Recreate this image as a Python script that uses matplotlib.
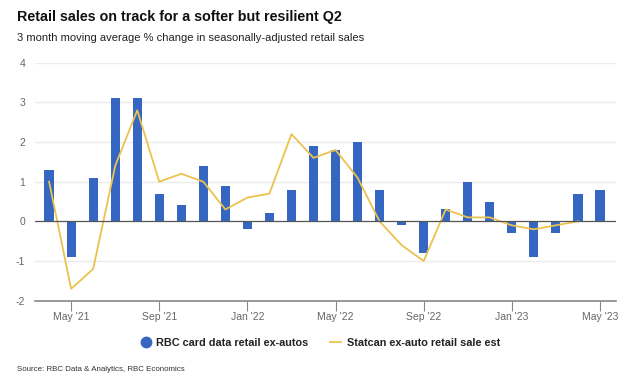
import matplotlib
matplotlib.use("Agg")
import matplotlib.pyplot as plt
from matplotlib.lines import Line2D
import numpy as np

plt.rcParams["font.family"] = ["Liberation Sans", "DejaVu Sans"]

# Monthly data, Apr 2021 .. May 2023
months = ["Apr '21", "May '21", "Jun '21", "Jul '21", "Aug '21", "Sep '21", "Oct '21",
          "Nov '21", "Dec '21", "Jan '22", "Feb '22", "Mar '22", "Apr '22", "May '22",
          "Jun '22", "Jul '22", "Aug '22", "Sep '22", "Oct '22", "Nov '22", "Dec '22",
          "Jan '23", "Feb '23", "Mar '23", "Apr '23", "May '23"]
rbc_card = [1.3, -0.9, 1.1, 3.1, 3.1, 0.7, 0.4, 1.4, 0.9, -0.2, 0.2, 0.8, 1.9,
            1.8, 2.0, 0.8, -0.1, -0.8, 0.3, 1.0, 0.5, -0.3, -0.9, -0.3, 0.7, 0.8]
statcan = [1.0, -1.7, -1.2, 1.4, 2.8, 1.0, 1.2, 1.0, 0.3, 0.6, 0.7, 2.2, 1.6,
           1.8, 1.1, 0.0, -0.6, -1.0, 0.3, 0.1, 0.1, -0.1, -0.2, -0.1, 0.0]
tick_labels = ["May '21", "Sep '21", "Jan '22", "May '22", "Sep '22", "Jan '23", "May '23"]
y_ticks = [-2, -1, 0, 1, 2, 3, 4]

BAR_COLOR = "#3567c2"
LINE_COLOR = "#ecc24e"
GRID_COLOR = "#ebebeb"
TEXT_GREY = "#666666"

x = np.arange(len(months))
xs = np.arange(len(statcan))

fig = plt.figure(figsize=(6.4, 3.87), dpi=100)
ax = fig.add_axes([0.0547, 0.223, 0.9078, 0.615])

ax.bar(x, rbc_card, width=0.42, color=BAR_COLOR, zorder=3)
ax.plot(xs, statcan, color=LINE_COLOR, linewidth=1.3, zorder=4)

ax.set_ylim(-2, 4)
ax.set_xlim(-0.64, len(months) - 0.27)
ax.set_yticks(y_ticks)
ax.set_yticklabels([str(v) for v in y_ticks])
for v in y_ticks:
    if v in (-2, 0):
        continue
    ax.axhline(v, color=GRID_COLOR, linewidth=1, zorder=1)
ax.axhline(0, color="#555555", linewidth=0.9, zorder=5)

tick_pos = [months.index(t) for t in tick_labels]
ax.set_xticks(tick_pos)
ax.set_xticklabels(tick_labels)
ax.tick_params(axis="x", length=7, width=0.8, color="#888888", colors=TEXT_GREY,
               labelsize=7.5, pad=1)
ax.tick_params(axis="y", length=0, colors=TEXT_GREY, labelsize=7.5, pad=7)

for s in ("top", "right", "left"):
    ax.spines[s].set_visible(False)
ax.spines["bottom"].set_color("#888888")
ax.spines["bottom"].set_linewidth(1.2)

fig.text(0.027, 0.955, "Retail sales on track for a softer but resilient Q2",
         fontsize=10.3, fontweight="bold", va="center", ha="left", color="#111111")
fig.text(0.027, 0.902, "3 month moving average % change in seasonally-adjusted retail sales",
         fontsize=8.0, va="center", ha="left", color="#222222")
fig.text(0.026, 0.044, "Source: RBC Data & Analytics, RBC Economics",
         fontsize=5.7, va="center", ha="left", color="#333333")

handles = [
    Line2D([], [], marker="o", linestyle="none", markersize=7.5,
           markerfacecolor=BAR_COLOR, markeredgecolor=BAR_COLOR),
    Line2D([], [], color=LINE_COLOR, linewidth=1.3),
]
fig.legend(handles, ["RBC card data retail ex-autos", "Statcan ex-auto retail sale est"],
           loc="center", bbox_to_anchor=(0.5, 0.114), ncol=2, frameon=False,
           prop={"size": 7.8, "weight": "bold"}, handlelength=1.0,
           handletextpad=0.5, columnspacing=2.0, labelcolor="#222222")

fig.savefig("out.png", dpi=100)
